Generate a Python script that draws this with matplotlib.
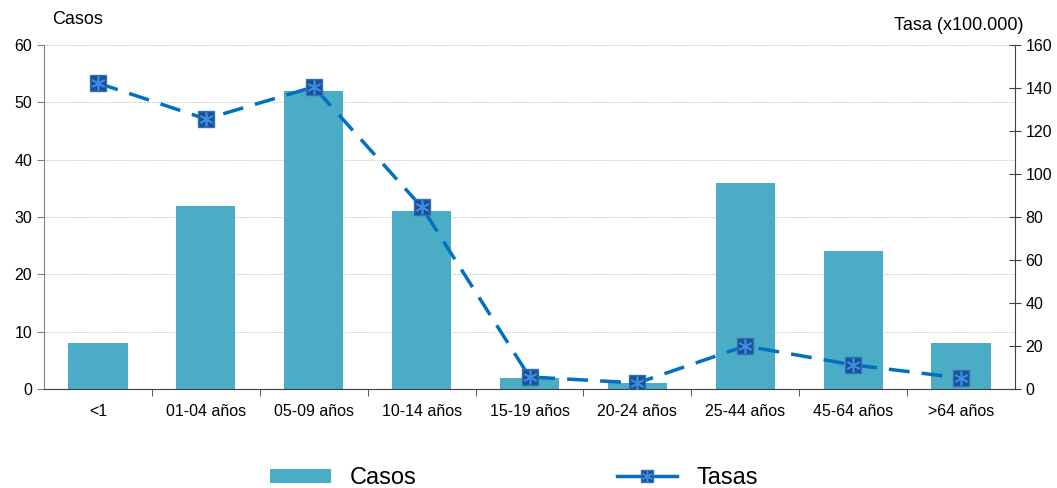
"""Casos y tasas por grupo de edad."""

import matplotlib.pyplot as plt
import numpy as np
from matplotlib.lines import Line2D
from matplotlib.patches import Patch

plt.rcParams["font.family"] = ["Liberation Sans", "DejaVu Sans"]

grupos = ["<1", "01-04 años", "05-09 años", "10-14 años", "15-19 años",
          "20-24 años", "25-44 años", "45-64 años", ">64 años"]
casos = [8, 32, 52, 31, 2, 1, 36, 24, 8]
tasas = [142.3, 125.6, 140.5, 84.7, 5.6, 2.8, 20.0, 11.2, 5.1]

BAR = "#4BACC6"
LINE = "#0070C0"
MARK = "#1F4E99"

fig = plt.figure(figsize=(10.57, 4.88), dpi=100)
ax = fig.add_axes([0.0416, 0.2029, 0.9187, 0.7049])
x = np.arange(len(grupos))

ax.bar(x, casos, width=0.55, color=BAR, zorder=2)
ax.set_xlim(-0.5, len(grupos) - 0.5)
ax.set_ylim(0, 60)
ax.set_yticks(range(0, 61, 10))
ax.set_xticks(x)
ax.set_xticklabels(grupos)
ax.set_xticks(np.arange(0.5, len(grupos) - 0.5), minor=True)
ax.tick_params(axis="x", which="major", length=0, pad=11, labelsize=11.5)
ax.tick_params(axis="x", which="minor", length=5, direction="out", color="#404040")
ax.tick_params(axis="y", length=5, direction="out", color="#808080", labelsize=11.5)
ax.grid(axis="y", color="#B8B8B8", linestyle=(0, (1.5, 1.5)), linewidth=0.6, zorder=0)
for side in ("top", "right"):
    ax.spines[side].set_visible(False)
ax.spines["left"].set_color("#808080")
ax.spines["bottom"].set_color("#404040")
fig.text(52 / 1057, 1 - 20 / 488, "Casos", fontsize=13, ha="left", va="center")

ax2 = ax.twinx()
ax2.set_ylim(0, 160)
ax2.set_yticks(range(0, 161, 20))
ax2.tick_params(axis="y", length=8, direction="inout", color="#404040", labelsize=11.5)
for side in ("top", "left", "bottom"):
    ax2.spines[side].set_visible(False)
ax2.spines["right"].set_color("#404040")
ax2.plot(x, tasas, color=LINE, linewidth=2.5, dashes=(6, 3.5), zorder=3)
ax2.plot(x, tasas, linestyle="none", marker="s", markersize=11,
         markerfacecolor=MARK, markeredgecolor="#2E75B6", markeredgewidth=1, zorder=4)
ax2.plot(x, tasas, linestyle="none", marker=(6, 2, 0), markersize=10,
         markeredgecolor="#3C8DDE", markeredgewidth=1.2, zorder=5)
fig.text(1024 / 1057, 1 - 26 / 488, "Tasa (x100.000)", fontsize=13,
         ha="right", va="center")

casos_h = Patch(facecolor=BAR, label="Casos")
tasas_h = (
    Line2D([], [], color=LINE, linewidth=2.5, marker="s", markersize=9,
           markerfacecolor=MARK, markeredgecolor="#2E75B6"),
    Line2D([], [], linestyle="none", marker=(6, 2, 0), markersize=8,
           markeredgecolor="#3C8DDE", markeredgewidth=1),
)
fig.legend([casos_h, tasas_h], ["Casos", "Tasas"], loc="center",
           bbox_to_anchor=(514 / 1057, 1 - 478 / 488), ncol=2, frameon=False,
           fontsize=17, columnspacing=8.5, handlelength=2.55, handleheight=0.55,
           handletextpad=0.8, bbox_transform=fig.transFigure, borderpad=0)

fig.savefig("out.png", dpi=100)
